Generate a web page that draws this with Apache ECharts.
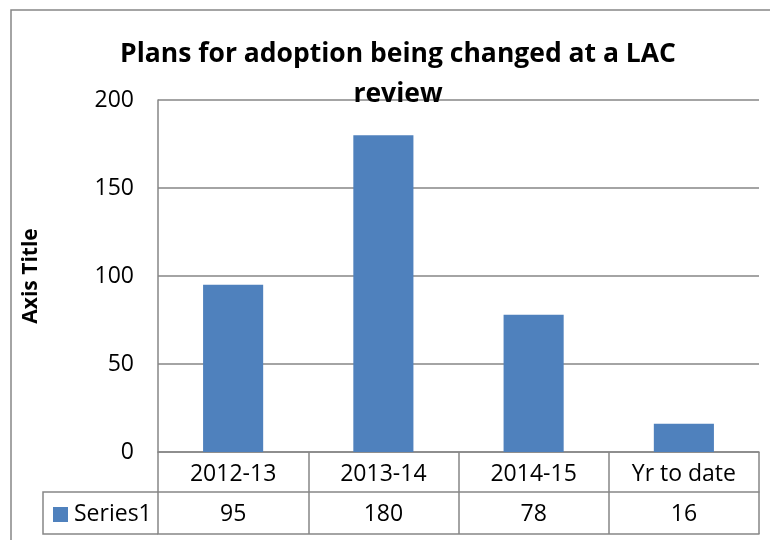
<!DOCTYPE html>
<html>
<head>
<meta charset="utf-8">
<script src="https://cdn.jsdelivr.net/npm/echarts@6/dist/echarts.min.js"></script>
<style>
  html, body { margin: 0; padding: 0; background: #fff; }
  #chart { width: 770px; height: 540px; }
</style>
</head>
<body>
<div id="chart"></div>
<script>
// 数据
const categories = ["2012-13", "2013-14", "2014-15", "Yr to date"];
const seriesName = "Series1";
const values = [95, 180, 78, 16];
const yTicks = { min: 0, max: 200, interval: 50 };

const lineGray = "#868686";
const barBlue = "#4F81BD";
const font = "Open Sans";

const chart = echarts.init(document.getElementById("chart"));

chart.setOption({
  animation: false,
  textStyle: { fontFamily: font },
  title: {
    text: "Plans for adoption being changed at a LAC\nreview",
    left: 393,
    top: 29,
    textAlign: "center",
    textStyle: {
      fontFamily: font,
      fontSize: 26.5,
      fontWeight: "bold",
      color: "#000",
      lineHeight: 40
    }
  },
  legend: {
    data: [seriesName],
    left: 48,
    top: 498,
    icon: "rect",
    itemWidth: 15,
    itemHeight: 15,
    itemGap: 6,
    textStyle: { fontFamily: font, fontSize: 23, color: "#000", padding: [0, 0, 0, 1] }
  },
  // 直角坐标系内绘图网格设置
  grid: {
    left: 158,
    right: 11,
    top: 100,
    bottom: 88
  },
  xAxis: [
    {
      type: "category",
      data: categories,
      boundaryGap: true,
      axisLine: { show: true, lineStyle: { color: lineGray, width: 1.5 } },
      axisTick: {
        show: true,
        interval: 0,
        alignWithLabel: false,
        length: 82,
        lineStyle: { color: lineGray, width: 1.5 }
      },
      axisLabel: { interval: 0, margin: 11, fontSize: 23, color: "#000", fontFamily: font }
    },
    {
      type: "category",
      data: categories,
      position: "bottom",
      offset: 40,
      axisLine: { show: true, lineStyle: { color: lineGray, width: 1.5 } },
      axisTick: { show: false },
      axisLabel: {
        interval: 0,
        margin: 11,
        fontSize: 23,
        color: "#000",
        fontFamily: font,
        formatter: (v, i) => String(values[i])
      }
    },
    {
      type: "category",
      data: categories,
      position: "bottom",
      offset: 82,
      axisLine: { show: true, lineStyle: { color: lineGray, width: 1.5 } },
      axisTick: { show: false },
      axisLabel: { show: false }
    }
  ],
  yAxis: {
    type: "value",
    min: yTicks.min,
    max: yTicks.max,
    interval: yTicks.interval,
    name: "Axis Title",
    nameLocation: "middle",
    nameGap: 116,
    nameRotate: 90,
    nameTextStyle: { fontFamily: font, fontSize: 21, fontWeight: "bold", color: "#000" },
    axisLine: { show: true, lineStyle: { color: lineGray, width: 1.5 } },
    axisTick: { show: false },
    axisLabel: { margin: 24, fontSize: 23, color: "#000", fontFamily: font },
    splitLine: { show: true, lineStyle: { color: lineGray, width: 1.5 } }
  },
  series: [
    {
      name: seriesName,
      type: "bar",
      data: values,
      barWidth: "40%",
      itemStyle: { color: barBlue }
    }
  ],
  graphic: [
    {
      type: "rect",
      silent: true,
      shape: { x: 11, y: 10, width: 800, height: 600 },
      style: { fill: null, stroke: lineGray, lineWidth: 1.5 }
    },
    {
      // legend key cell of the data table
      type: "polyline",
      silent: true,
      shape: { points: [[158, 492], [43, 492], [43, 534], [158, 534]] },
      style: { fill: null, stroke: lineGray, lineWidth: 1.5 }
    }
  ]
});
</script>
</body>
</html>
